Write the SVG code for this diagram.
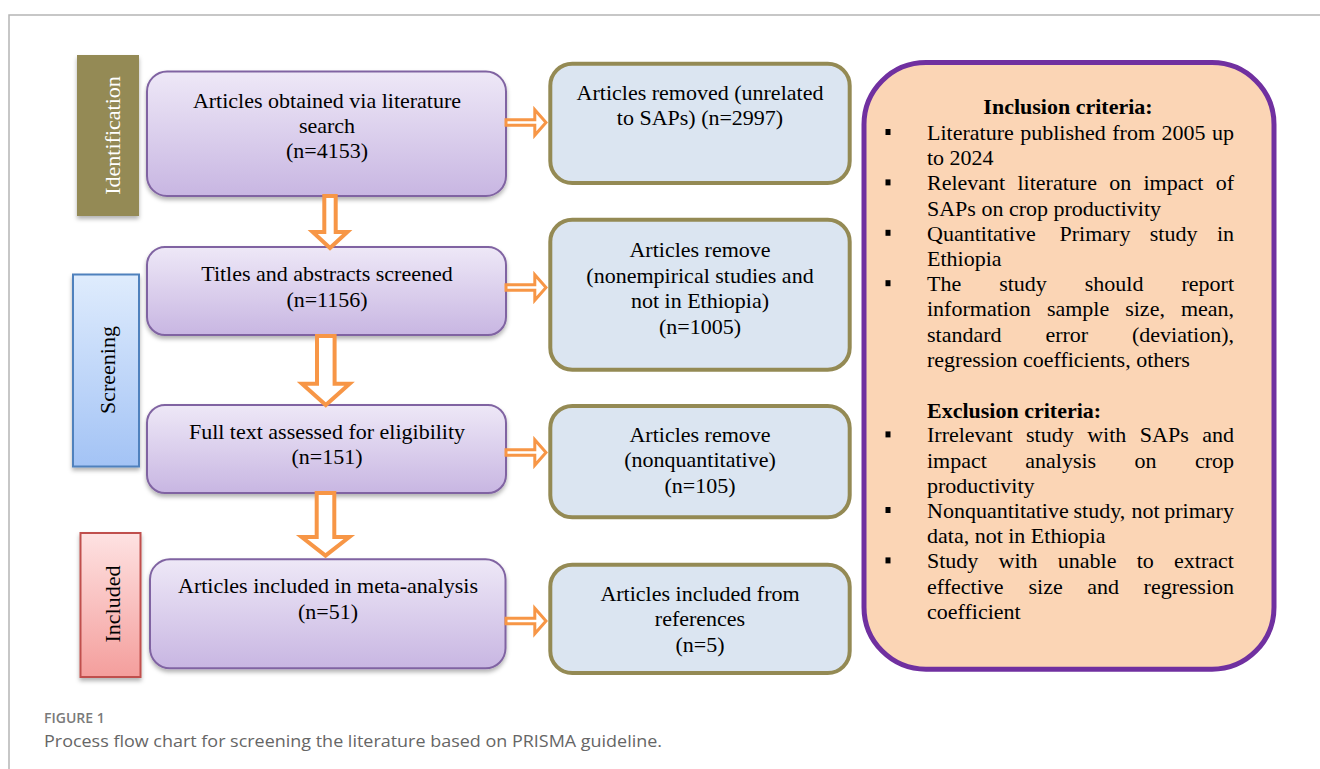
<svg xmlns="http://www.w3.org/2000/svg" width="1320" height="769" viewBox="0 0 1320 769">
<style>
.t{font-family:"Liberation Serif","Times New Roman",serif;font-size:22px;fill:#000}
.c{text-anchor:middle}
.b{font-weight:bold}
.lbl{font-family:"Liberation Serif","Times New Roman",serif;font-size:22px;text-anchor:middle}
.pbox{fill:url(#gPurple);stroke:#8064A2;stroke-width:2}
.rbox{fill:#DBE5F1;stroke:#948A54;stroke-width:4}
.arr{fill:#fff;stroke:#F79646;stroke-width:4;stroke-linejoin:miter}
.rarr{fill:#fff;stroke:#F79646;stroke-width:3;stroke-linejoin:miter}
.bul{fill:#000}
.cap{font-family:"Open Sans","Noto Sans","Liberation Sans",sans-serif}
</style>
<defs>
<linearGradient id="gPurple" x1="0" y1="0" x2="0" y2="1">
<stop offset="0" stop-color="#EEE8F7"/><stop offset="1" stop-color="#C8B6E2"/>
</linearGradient>
<linearGradient id="gBlue" x1="0" y1="0" x2="0" y2="1">
<stop offset="0" stop-color="#DFECFD"/><stop offset="1" stop-color="#A3C3F5"/>
</linearGradient>
<linearGradient id="gRed" x1="0" y1="0" x2="0" y2="1">
<stop offset="0" stop-color="#FEE2E2"/><stop offset="1" stop-color="#F49E9C"/>
</linearGradient>
<filter id="sh" x="-10%" y="-10%" width="120%" height="130%">
<feDropShadow dx="0" dy="3" stdDeviation="2" flood-color="#000" flood-opacity="0.3"/>
</filter>
<path id="rarrow" d="M0,-2.7 H28.8 V-12.7 L40,0 L28.8,12.7 V2.7 H0 Z"/>
</defs>
<rect width="1320" height="769" fill="#fff"/>
<path d="M9,769 V15 H1320" fill="none" stroke="#b5b5b5" stroke-width="1.5"/>

<g id="stage-identification">
<rect x="77" y="55" width="62" height="161" fill="#948A54" filter="url(#sh)"/>
<text class="lbl" fill="#fff" transform="translate(120,135.5) rotate(-90)">Identification</text>
</g>
<g id="stage-screening">
<rect x="73" y="274.5" width="66" height="192" fill="url(#gBlue)" stroke="#4F81BD" stroke-width="2" filter="url(#sh)"/>
<text class="lbl" fill="#000" transform="translate(115,370) rotate(-90)">Screening</text>
</g>
<g id="stage-included">
<rect x="80.5" y="533" width="60" height="144" fill="url(#gRed)" stroke="#C0504D" stroke-width="2" filter="url(#sh)"/>
<text class="lbl" fill="#000" transform="translate(119.5,604) rotate(-90)">Included</text>
</g>

<g id="node-obtained">
<rect class="pbox" x="147" y="71.5" width="359" height="124.5" rx="20" filter="url(#sh)"/>
<text class="t c" x="327" y="108">Articles obtained via literature</text>
<text class="t c" x="327" y="133">search</text>
<text class="t c" x="327" y="158">(n=4153)</text>
</g>
<g id="node-screened">
<rect class="pbox" x="147" y="247" width="359" height="88" rx="18" filter="url(#sh)"/>
<text class="t c" x="327" y="281">Titles and abstracts screened</text>
<text class="t c" x="327" y="307">(n=1156)</text>
</g>
<g id="node-eligibility">
<rect class="pbox" x="147" y="405" width="359" height="88" rx="18" filter="url(#sh)"/>
<text class="t c" x="327" y="438.5">Full text assessed for eligibility</text>
<text class="t c" x="327" y="464">(n=151)</text>
</g>
<g id="node-included">
<rect class="pbox" x="150" y="559.3" width="355.5" height="109" rx="20" filter="url(#sh)"/>
<text class="t c" x="328" y="593">Articles included in meta-analysis</text>
<text class="t c" x="328" y="618.5">(n=51)</text>
</g>

<g id="node-removed1">
<rect class="rbox" x="550.3" y="63.7" width="299.4" height="119.3" rx="22"/>
<text class="t c" x="700" y="99.5">Articles removed (unrelated</text>
<text class="t c" x="700" y="125">to SAPs) (n=2997)</text>
</g>
<g id="node-removed2">
<rect class="rbox" x="550.3" y="219.7" width="299.4" height="150" rx="22"/>
<text class="t c" x="700" y="257">Articles remove</text>
<text class="t c" x="700" y="282.5">(nonempirical studies and</text>
<text class="t c" x="700" y="308">not in Ethiopia)</text>
<text class="t c" x="700" y="333.5">(n=1005)</text>
</g>
<g id="node-removed3">
<rect class="rbox" x="550.3" y="406" width="299.4" height="111.3" rx="22"/>
<text class="t c" x="700" y="441.7">Articles remove</text>
<text class="t c" x="700" y="467.3">(nonquantitative)</text>
<text class="t c" x="700" y="492.7">(n=105)</text>
</g>
<g id="node-references">
<rect class="rbox" x="550.3" y="564.7" width="299.4" height="108.3" rx="22"/>
<text class="t c" x="700" y="601">Articles included from</text>
<text class="t c" x="700" y="626.3">references</text>
<text class="t c" x="700" y="651.7">(n=5)</text>
</g>

<g id="node-criteria">
<rect x="864" y="62.5" width="410" height="606.7" rx="62" fill="#FBD5B5" stroke="#7030A0" stroke-width="5"/>
<text class="t c b" x="1068" y="114.3">Inclusion criteria:</text>
<rect class="bul" x="885.5" y="129" width="5" height="6"/>
<text class="t" y="140"><tspan x="927">Literature</tspan> <tspan x="1020.2">published</tspan> <tspan x="1112.3">from</tspan> <tspan x="1161.6">2005</tspan> <tspan x="1212">up</tspan></text>
<text class="t" x="927" y="165.2">to 2024</text>
<rect class="bul" x="885.5" y="179.4" width="5" height="6"/>
<text class="t" y="190.4"><tspan x="927">Relevant</tspan> <tspan x="1017.5">literature</tspan> <tspan x="1109.2">on</tspan> <tspan x="1143.5">impact</tspan> <tspan x="1215.7">of</tspan></text>
<text class="t" x="927" y="215.6">SAPs on crop productivity</text>
<rect class="bul" x="885.5" y="229.8" width="5" height="6"/>
<text class="t" y="240.8"><tspan x="927">Quantitative</tspan> <tspan x="1059.5">Primary</tspan> <tspan x="1149.8">study</tspan> <tspan x="1216.9">in</tspan></text>
<text class="t" x="927" y="266">Ethiopia</text>
<rect class="bul" x="885.5" y="280.2" width="5" height="6"/>
<text class="t" y="291.2"><tspan x="927">The</tspan> <tspan x="999.2">study</tspan> <tspan x="1084.8">should</tspan> <tspan x="1181.5">report</tspan></text>
<text class="t" y="316.4"><tspan x="927">information</tspan> <tspan x="1046.9">sample</tspan> <tspan x="1125.2">size,</tspan> <tspan x="1180.9">mean,</tspan></text>
<text class="t" y="341.6"><tspan x="927">standard</tspan> <tspan x="1045.4">error</tspan> <tspan x="1132">(deviation),</tspan></text>
<text class="t" x="927" y="366.8">regression coefficients, others</text>
<text class="t b" x="927" y="417.6">Exclusion criteria:</text>
<rect class="bul" x="885.5" y="431.4" width="5" height="6"/>
<text class="t" y="442.4"><tspan x="927">Irrelevant</tspan> <tspan x="1026">study</tspan> <tspan x="1087.2">with</tspan> <tspan x="1139.8">SAPs</tspan> <tspan x="1202.2">and</tspan></text>
<text class="t" y="467.6"><tspan x="927">impact</tspan> <tspan x="1025.3">analysis</tspan> <tspan x="1134.6">on</tspan> <tspan x="1195">crop</tspan></text>
<text class="t" x="927" y="492.8">productivity</text>
<rect class="bul" x="885.5" y="507" width="5" height="6"/>
<text class="t" y="518"><tspan x="927">Nonquantitative</tspan> <tspan x="1073.5">study,</tspan> <tspan x="1131.4">not</tspan> <tspan x="1164.3">primary</tspan></text>
<text class="t" x="927" y="543.2">data, not in Ethiopia</text>
<rect class="bul" x="885.5" y="557.4" width="5" height="6"/>
<text class="t" y="568.4"><tspan x="927">Study</tspan> <tspan x="998.5">with</tspan> <tspan x="1057.8">unable</tspan> <tspan x="1136.7">to</tspan> <tspan x="1174.1">extract</tspan></text>
<text class="t" y="593.6"><tspan x="927">effective</tspan> <tspan x="1028.5">size</tspan> <tspan x="1087.2">and</tspan> <tspan x="1143.6">regression</tspan></text>
<text class="t" x="927" y="618.8">coefficient</text>
</g>

<g id="connectors">
<path class="arr" d="M324.3,196 H335.7 V232 H347.3 L330,248 L312.7,232 H324.3 Z"/>
<path class="arr" d="M317,336 H334.6 V383.7 H349.6 L325.8,405 L302,383.7 H317 Z"/>
<path class="arr" d="M316.7,493 H334.3 V537 H349.3 L325.5,555.6 L301.7,537 H316.7 Z"/>
<use href="#rarrow" class="rarr" transform="translate(506,122.5)"/>
<use href="#rarrow" class="rarr" transform="translate(506,287.5)"/>
<use href="#rarrow" class="rarr" transform="translate(506,452.5)"/>
<use href="#rarrow" class="rarr" transform="translate(506,621)"/>
</g>

<g id="caption">
<text class="cap" x="44" y="723" font-size="14" font-weight="600" fill="#7a7a7a">FIGURE 1</text>
<text class="cap" x="44" y="746.7" font-size="17" fill="#666" textLength="618" lengthAdjust="spacingAndGlyphs">Process flow chart for screening the literature based on PRISMA guideline.</text>
</g>
</svg>
